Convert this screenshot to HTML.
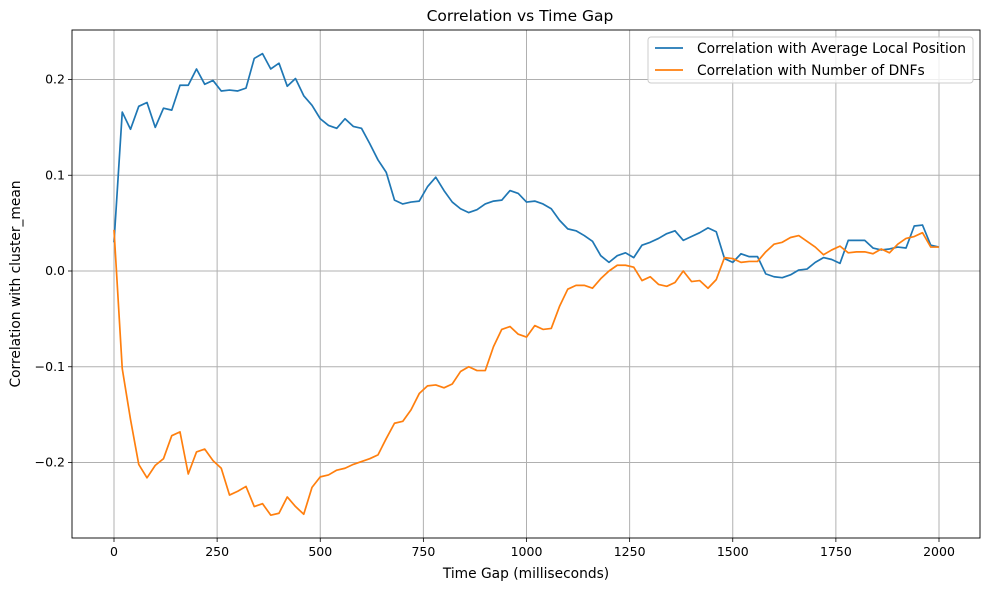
<!DOCTYPE html>
<html><head><meta charset="utf-8"><style>
body{margin:0;background:#fff;font-family:"Liberation Sans","DejaVu Sans",sans-serif;}
svg text{font-family:"DejaVu Sans","Liberation Sans",sans-serif;}
</style></head><body>
<svg id="chart" width="989" height="590" xmlns="http://www.w3.org/2000/svg"></svg>
<script>
const xVals = [];
for (let i = 0; i <= 100; i++) xVals.push(i * 20);
const avgPos = [0.03,0.166,0.148,0.172,0.176,0.150,0.170,0.168,0.194,0.194,0.211,0.195,0.199,0.188,0.189,0.188,0.191,0.222,0.227,0.211,0.217,0.193,0.201,0.183,0.173,0.159,0.152,0.149,0.159,0.151,0.149,0.133,0.116,0.103,0.074,0.070,0.072,0.073,0.088,0.098,0.084,0.072,0.065,0.061,0.064,0.070,0.073,0.074,0.084,0.081,0.072,0.073,0.070,0.065,0.053,0.044,0.042,0.037,0.031,0.016,0.009,0.016,0.019,0.014,0.027,0.030,0.034,0.039,0.042,0.032,0.036,0.040,0.045,0.041,0.013,0.009,0.018,0.015,0.015,-0.003,-0.006,-0.007,-0.004,0.001,0.002,0.009,0.014,0.012,0.008,0.032,0.032,0.032,0.024,0.022,0.023,0.025,0.024,0.047,0.048,0.027,0.025];
const dnfs = [0.043,-0.102,-0.155,-0.202,-0.216,-0.203,-0.196,-0.172,-0.168,-0.212,-0.189,-0.186,-0.198,-0.206,-0.234,-0.230,-0.225,-0.246,-0.243,-0.255,-0.253,-0.236,-0.246,-0.254,-0.226,-0.215,-0.213,-0.208,-0.206,-0.202,-0.199,-0.196,-0.192,-0.175,-0.159,-0.157,-0.145,-0.128,-0.120,-0.119,-0.122,-0.118,-0.105,-0.100,-0.104,-0.104,-0.079,-0.061,-0.058,-0.066,-0.069,-0.057,-0.061,-0.060,-0.037,-0.019,-0.015,-0.015,-0.018,-0.008,0.000,0.006,0.006,0.004,-0.010,-0.006,-0.014,-0.016,-0.012,0.000,-0.011,-0.010,-0.018,-0.009,0.014,0.013,0.009,0.010,0.010,0.020,0.028,0.030,0.035,0.037,0.031,0.025,0.017,0.022,0.026,0.019,0.020,0.020,0.018,0.023,0.019,0.028,0.034,0.036,0.040,0.025,0.025];
const xTicks = [0,250,500,750,1000,1250,1500,1750,2000];
const yTicks = [-0.2,-0.1,0.0,0.1,0.2];
const yTickLabels = ["\u22120.2","\u22120.1","0.0","0.1","0.2"];

const L=72,R=980,T=30,B=538;
const xs = v => 114 + (v/2000)*(939-114);
const ys = v => 271 - v*957.5;
const svg = document.getElementById('chart');
const NS='http://www.w3.org/2000/svg';
function mk(tag, attrs){const e=document.createElementNS(NS,tag);for(const k in attrs)e.setAttribute(k,attrs[k]);svg.appendChild(e);return e;}

xTicks.forEach(t=>{
  const g=mk('line',{x1:xs(t),x2:xs(t),y1:T,y2:B,stroke:'#b0b0b0','stroke-width':1});
  
  
  const tk=mk('line',{x1:xs(t),x2:xs(t),y1:B,y2:B+4,stroke:'#000','stroke-width':0.8});
  
  
  const tx=mk('text',{x:xs(t),y:B+18,'text-anchor':'middle','font-size':12.5,fill:'#000'});
  tx.textContent=t;
  
  
});
yTicks.forEach((t,i)=>{
  const g=mk('line',{x1:L,x2:R,y1:ys(t),y2:ys(t),stroke:'#b0b0b0','stroke-width':1});
  
  
  const tk=mk('line',{x1:L-4,x2:L,y1:ys(t),y2:ys(t),stroke:'#000','stroke-width':0.8});
  
  
  const tx=mk('text',{x:L-7,y:ys(t)+4,'text-anchor':'end','font-size':12.5,fill:'#000'});
  tx.textContent=yTickLabels[i];
  
  
});
function line(vals,color,name){
  const p=mk('polyline',{points:vals.map((v,i)=>xs(xVals[i])+','+ys(v)).join(' '),fill:'none',stroke:color,'stroke-width':1.7,'stroke-linejoin':'round'});
  
  
}
line(avgPos,'#1f77b4','avg-local-position-line');
line(dnfs,'#ff7f0e','dnf-count-line');

const frame=mk('rect',{x:L,y:T,width:R-L,height:B-T,fill:'none',stroke:'#000','stroke-width':0.9});



const title=mk('text',{x:520,y:21,'text-anchor':'middle','font-size':15.5,fill:'#000'});
title.textContent='Correlation vs Time Gap';


const xl=mk('text',{x:526,y:578,'text-anchor':'middle','font-size':13.8,fill:'#000'});
xl.textContent='Time Gap (milliseconds)';


const yl=mk('text',{x:20,y:(T+B)/2,'text-anchor':'middle','font-size':13.8,fill:'#000',transform:'rotate(-90 20 '+((T+B)/2)+')'});
yl.textContent='Correlation with cluster_mean';



const lg=mk('rect',{x:648,y:37,width:325,height:46,rx:3,fill:'#fff','fill-opacity':0.8,stroke:'#ccc'});


[['Correlation with Average Local Position','#1f77b4',53],['Correlation with Number of DNFs','#ff7f0e',75]].forEach(([t,c,y])=>{
  const s=mk('line',{x1:655,x2:683,y1:y-5,y2:y-5,stroke:c,'stroke-width':1.7});
  
  
  const tx=mk('text',{x:697,y:y,'font-size':13.8,fill:'#000'});
  tx.textContent=t;
  
  
});
</script>
</body></html>
